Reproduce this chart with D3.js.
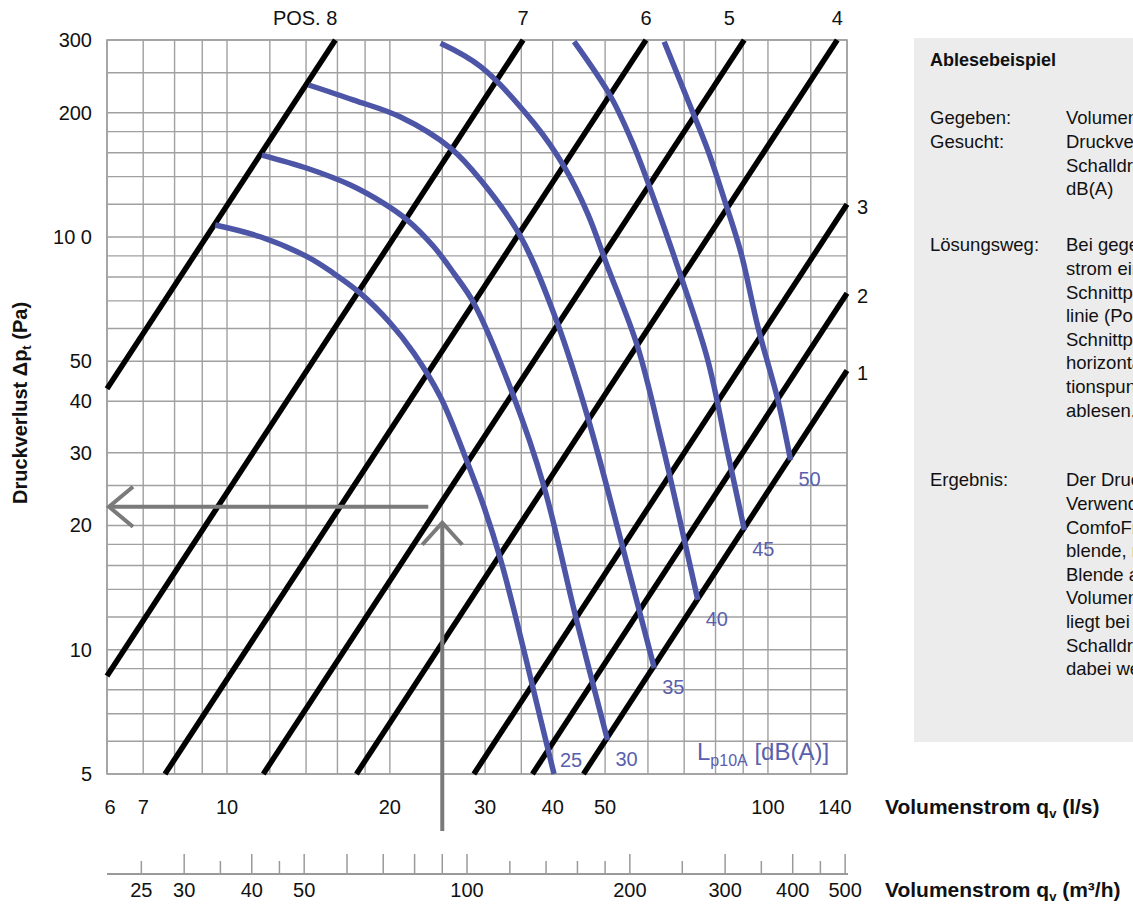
<!DOCTYPE html>
<html><head><meta charset="utf-8">
<script src="https://cdn.jsdelivr.net/npm/d3@7"></script>
<style>html,body{margin:0;padding:0;background:#fff;overflow:hidden}svg{display:block}
text{font-family:"Liberation Sans",Arial,Helvetica,sans-serif}</style>
</head><body><svg id="c" width="1133" height="904"></svg>
<script>
// ---------- data ----------
const xTickValues = [6,7,10,20,30,40,50,100,140];
const xGridValues = [6,7,8,9,10,12,14,16,18,20,25,30,35,40,50,60,70,80,90,100,120,140];
const yTickValues = [300,200,100,50,40,30,20,10,5];
const yTickLabels = ["300","200","10 0","50","40","30","20","10","5"];
const yGridValues = [5,6,7,8,9,10,12,14,16,18,20,25,30,40,50,60,70,80,90,100,120,140,160,180,200,250,300];
const m3hTicks = [25,30,35,40,45,50,60,70,80,90,100,120,140,160,180,200,250,300,350,400,450,500];
const m3hMajor = [30,40,50,60,70,80,90,100,200,300,400,500];
const m3hLabels = [25,30,40,50,100,200,300,400,500];
const posNames = ["POS. 8","7","6","5","4","3","2","1"];
// each position line: [q start (l/s), dp start (Pa), q end, dp end]
const posLines = [
  [6,42.9,15.86,300],
  [6,8.64,35.27,300],
  [7.68,5,59.5,300],
  [11.67,5,90.4,300],
  [17.35,5,134.3,300],
  [28.6,5,140,120],
  [36.7,5,140,73],
  [45.6,5,140,47.5]
];
const soundLevels = [25,30,35,40,45,50];
const curve25 = [[9.51,106.9],[11.52,100.1],[14.06,89.6],[15.75,81.6],[17.65,73.0],[20.05,61.8],[22.15,52.3],[24.82,40.9],[27.41,29.9],[29.85,22.2],[32.06,16.5],[34.17,12.0],[38.02,6.76],[40.23,5.0]];
const curve30 = [[11.60,157.9],[14.06,146.7],[16.91,133.6],[19.49,120.6],[21.54,109.9],[24.12,94.7],[26.27,81.6],[28.60,69.1],[33.70,41.8],[38.56,24.8],[44.13,12.0],[50.52,6.04]];
const curve35 = [[14.16,233.4],[17.15,214.6],[20.93,195.2],[25.90,164.2],[29.44,137.4],[34.91,100.1],[40.82,61.8],[46.40,36.7],[53.48,18.4],[58.24,12.0],[61.64,9.03]];
const curve40 = [[24.82,294.5],[29.44,258.5],[36.95,188.5],[42.0,148.0],[46.40,114.1],[50.52,84.7],[57.42,54.2],[63.7,31.7],[74.18,13.2]];
const curve45 = [[43.82,297.2],[51.23,218.6],[56.59,165.4],[61.64,122.9],[69.07,80.1],[77.4,50.3],[84.3,29.9],[90.45,19.5]];
const curve50 = [[64.3,297.2],[71.08,214.6],[77.4,162.4],[83.1,122.9],[89.19,91.3],[95.79,60.6],[104.3,40.3],[110.1,28.8]];
const soundCurves = [curve25,curve30,curve35,curve40,curve45,curve50];
const exampleFlow = 25;      // l/s (= 90 m³/h)
const examplePressure = 22.2; // Pa
const panelTitle = "Ablesebeispiel";
const panelLabels = ["Gegeben:","Gesucht:","Lösungsweg:","Ergebnis:"];
const panelTexts = [
  ["Volumenstrom 90 m³/h"],
  ["Druckverlust Δpt und","Schalldruckpegel Lp10A in","dB(A)"],
  ["Bei gegebenem Volumen-","strom eine Linie bis zum","Schnittpunkt mit der Blenden-","linie (Pos. 5) ziehen. Vom","Schnittpunkt aus eine","horizontale Linie ziehen, am","tionspunkt Druckverlust","ablesen."],
  ["Der Druckverlust bei","Verwendung des","ComfoFresh Volumenstrom-","blende, mit eingestellter","Blende auf Pos. 5 und einem","Volumenstrom von 90 m³/h","liegt bei ca. 22 Pa. Der","Schalldruckpegel beträgt","dabei weniger als 25 dB(A)."]
];

// ---------- layout ----------
const L = 107, R = 847, T = 40, B = 774;
const svg = d3.select("#c");
const x = d3.scaleLog().domain([6,140]).range([L,R]);
const y = d3.scaleLog().domain([5,300]).range([B,T]);
const xm = d3.scaleLog().domain([6*3.6,140*3.6]).range([L,R]);
const gridCol = "#a0a0a0", blue = "#4d55a6", blueText = "#5a60ad", arrowCol = "#7a7a7a";

// grid
svg.append("g").selectAll("line").data(xGridValues).join("line")
  .attr("x1",d=>x(d)).attr("x2",d=>x(d)).attr("y1",T).attr("y2",B)
  .attr("stroke",gridCol).attr("stroke-width",1.4);
svg.append("g").selectAll("line").data(yGridValues).join("line")
  .attr("x1",L).attr("x2",R).attr("y1",d=>y(d)).attr("y2",d=>y(d))
  .attr("stroke",gridCol).attr("stroke-width",1.4);

// tick labels
svg.append("g").selectAll("text").data(yTickValues).join("text")
  .attr("x",92).attr("y",d=>y(d)).attr("dy","0.35em").attr("text-anchor","end")
  .attr("font-size",20).attr("fill","#111").text((d,i)=>yTickLabels[i]);
svg.append("g").selectAll("text").data(xTickValues).join("text")
  .attr("x",(d,i)=>x(d) + (i===0?3:(i===xTickValues.length-1?-12:0)))
  .attr("y",807).attr("dy","0.35em").attr("text-anchor","middle")
  .attr("font-size",20).attr("fill","#111").text(d=>d);

// m3/h axis
const axY = 874;
svg.append("line").attr("x1",L).attr("x2",R+1).attr("y1",axY).attr("y2",axY)
  .attr("stroke","#9a9a9a").attr("stroke-width",2);
svg.append("g").selectAll("line").data(m3hTicks).join("line")
  .attr("x1",d=>xm(d)).attr("x2",d=>xm(d)).attr("y1",axY)
  .attr("y2",d=>m3hMajor.includes(d)?axY-20:axY-13)
  .attr("stroke","#9a9a9a").attr("stroke-width",1.5);
svg.append("g").selectAll("text").data(m3hLabels).join("text")
  .attr("x",d=>xm(d)).attr("y",890).attr("dy","0.35em").attr("text-anchor","middle")
  .attr("font-size",20).attr("fill","#111").text(d=>d);

// axis titles
function subTitle(g, main, sub, rest){
  g.append("tspan").text(main);
  g.append("tspan").attr("font-size",13).attr("dy",4).text(sub);
  g.append("tspan").attr("dy",-4).text(rest);
}
subTitle(svg.append("text").attr("x",885).attr("y",807).attr("dy","0.35em")
  .attr("font-size",21).attr("font-weight","bold").attr("fill","#111"),"Volumenstrom q","v"," (l/s)");
subTitle(svg.append("text").attr("x",885).attr("y",890).attr("dy","0.35em")
  .attr("font-size",21).attr("font-weight","bold").attr("fill","#111"),"Volumenstrom q","v"," (m³/h)");
subTitle(svg.append("text").attr("transform","translate(20,403) rotate(-90)").attr("text-anchor","middle")
  .attr("dy","0.35em").attr("font-size",20).attr("font-weight","bold").attr("fill","#111"),"Druckverlust Δp","t"," (Pa)");

// plot border
svg.append("rect").attr("x",L).attr("y",T).attr("width",R-L).attr("height",B-T)
  .attr("fill","none").attr("stroke",gridCol).attr("stroke-width",1.6);

// position lines
svg.append("g").selectAll("line").data(posLines).join("line")
  .attr("x1",d=>x(d[0])).attr("y1",d=>y(d[1])).attr("x2",d=>x(d[2])).attr("y2",d=>y(d[3]))
  .attr("stroke","#000").attr("stroke-width",5.5);

// position labels
svg.append("g").selectAll("text").data(posLines).join("text")
  .each(function(d,i){
    const t = d3.select(this);
    const ex = x(d[2]), ey = y(d[3]);
    if (d[3] >= 300) {
      t.attr("x", ex + (i===0?2:(i===3?-15:0))).attr("y",18).attr("dy","0.35em")
       .attr("text-anchor", i===0?"end":"middle");
    } else {
      t.attr("x", ex + 10).attr("y", ey + 3).attr("dy","0.35em").attr("text-anchor","start");
    }
  })
  .attr("font-size",20).attr("fill","#111").text((d,i)=>posNames[i]);

// sound curves
const line = d3.line().x(d=>x(d[0])).y(d=>y(d[1])).curve(d3.curveCatmullRom.alpha(0.5));
svg.append("g").selectAll("path").data(soundCurves).join("path")
  .attr("d",line).attr("fill","none").attr("stroke",blue).attr("stroke-width",5.5);
svg.append("g").selectAll("text").data(soundCurves).join("text")
  .attr("x",(d,i)=>x(d[d.length-1][0]) + (i===0?17:19))
  .attr("y",(d,i)=>y(d[d.length-1][1]) + (i===0?-14:19))
  .attr("dy","0.35em").attr("text-anchor","middle").attr("font-size",20)
  .attr("fill",blueText).text((d,i)=>soundLevels[i]);

// legend label
const lg = svg.append("text").attr("x",697).attr("y",760).attr("fill",blueText).attr("font-size",24);
lg.append("tspan").text("L");
lg.append("tspan").attr("font-size",16).attr("dy",6).text("p10A");
lg.append("tspan").attr("dy",-6).text(" [dB(A)]");

// example arrows
const ax = x(exampleFlow), ay = y(examplePressure);
const ag = svg.append("g").attr("stroke",arrowCol).attr("stroke-width",4).attr("fill","none");
ag.append("line").attr("x1",ax-14).attr("x2",L+2).attr("y1",ay).attr("y2",ay);
ag.append("path").attr("d",`M${L+26},${ay-20}L${L+2},${ay}L${L+26},${ay+20}`);
ag.append("line").attr("x1",ax).attr("x2",ax).attr("y1",831).attr("y2",ay+16);
ag.append("path").attr("d",`M${ax-20},${ay+38}L${ax},${ay+16}L${ax+20},${ay+38}`);

// explanation panel
svg.append("rect").attr("x",914).attr("y",38).attr("width",240).attr("height",704).attr("fill","#ececec");
svg.append("text").attr("x",930).attr("y",60).attr("dy","0.35em").attr("font-size",18)
  .attr("font-weight","bold").attr("fill","#111").text(panelTitle);
const rowStarts = [118, 141.6, 245, 480];
const lh = 23.6;
panelLabels.forEach((lab,i)=>{
  svg.append("text").attr("x",930).attr("y",rowStarts[i]).attr("dy","0.35em")
    .attr("font-size",18.5).attr("fill","#111").text(lab);
  panelTexts[i].forEach((s,j)=>{
    svg.append("text").attr("x",1066).attr("y",rowStarts[i]+j*lh).attr("dy","0.35em")
      .attr("font-size",18.5).attr("fill","#111").text(s);
  });
});
</script></body></html>
